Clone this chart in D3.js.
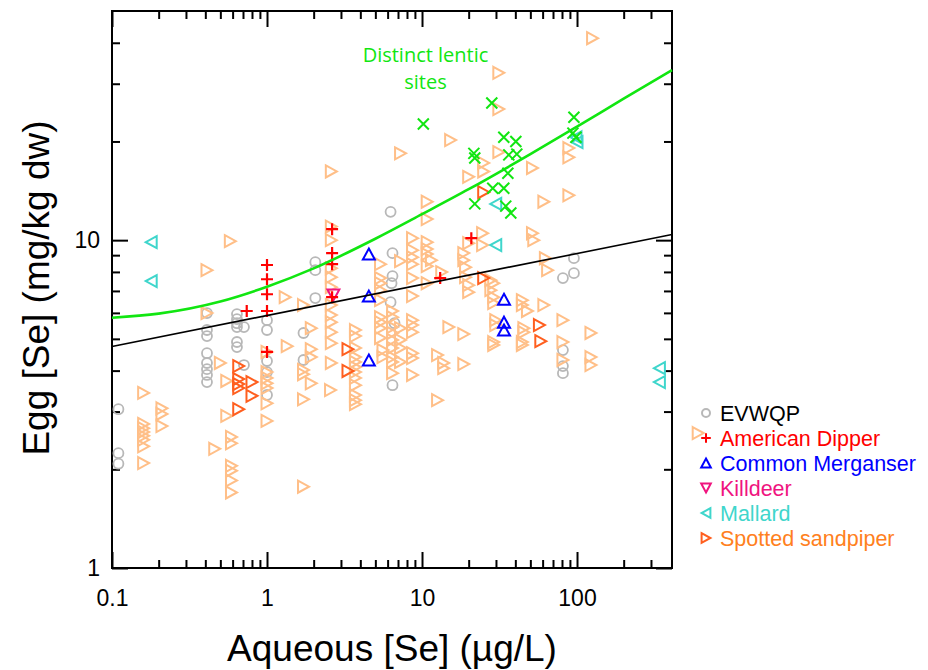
<!DOCTYPE html>
<html>
<head>
<meta charset="utf-8">
<script src="https://cdn.jsdelivr.net/npm/d3@7"></script>
<style>
  body { margin: 0; background: #fff; }
  svg { display: block; }
</style>
</head>
<body>
<svg id="chart" width="928" height="670"></svg>
<script>
// ---- Data: aqueous Se (µg/L) vs egg Se (mg/kg dw) ----

// EVWQP
const evwqpX = [0.11,0.11,0.11, 0.41,0.41,0.41,0.41,0.41,0.41,0.41,0.41,
  0.64,0.64,0.64,0.64,0.64,0.64,0.71,0.71, 1,1,1,1,1, 1.72,1.72, 2.05,2.05,2.05,
  6.27,6.45,6.45,6.36,6.27,6.65,6.45, 95.5,95.5,81.1,81.1,81.1,81.1];
const evwqpY = [3.05,2.24,2.08, 5.99,5.32,5.10,4.52,4.22,4.04,3.88,3.69,
  5.95,5.74,5.58,5.43,4.89,4.72,5.43,4.16, 5.70,5.32,4.28,3.96,3.37, 5.21,4.31, 8.57,8.10,6.66,
  12.2,9.13,7.77,7.39,6.47,5.58,3.61, 8.81,7.93,7.66,4.62,4.13,3.93];

// American Dipper
const dipperX = [0.74,1,1,1,1,1,2.63,2.63,2.63,2.63,13.1,20.8];
const dipperY = [6.08,8.4,7.6,6.84,6.08,4.56,10.8,9.13,8.45,6.70,7.66,10.14];

// Common Merganser
const merganserX = [4.54,4.54,4.54,33.8,33.8,33.8];
const merganserY = [9.07,6.75,4.31,6.60,5.62,5.32];

// Killdeer
const killdeerX = [2.68];
const killdeerY = [6.80];

// Mallard
const mallardX = [0.179,0.179,29.9,29.9,98.5,100,340,340];
const mallardY = [9.86,7.50,12.9,9.66,20.6,19.9,4.07,3.69];

// Spotted sandpiper
const sandpiperX = [0.657,0.657,0.657,0.657,0.80,0.80,0.657,3.33,3.33,25.0,25.0,57.2,58.4];
const sandpiperY = [4.13,3.77,3.64,3.54,3.69,3.35,3.05,4.65,3.99,14.0,7.66,5.51,4.92];

// Distinct lentic sites
const lenticX = [10.2,28.2,95.5,94.1,98.5,33.7,40.3,21.6,21.9,36.3,40.9,35.8,28.6,33.7,21.9,34.7,37.4];
const lenticY = [22.6,26.2,23.7,21.2,20.6,20.6,20.0,18.4,17.8,18.2,18.3,16.0,14.4,14.4,12.9,12.7,12.1];

// Other records (open right triangles, light orange)
const otherX = [
  0.16,0.16,0.16,0.16,0.16,0.16,0.16,0.16,
  0.21,0.21,0.21,
  0.41,0.41, 0.58, 0.50, 0.55,0.55, 0.46,
  0.59,0.59,0.59,0.59,0.59,0.59,
  1,1,1,1,1,1,1,
  1.31, 1.35,
  1.72,1.72,1.72,1.72,1.72,
  1.93,1.93,1.93,1.93,
  2.57,
  2.6,2.6,2.6,2.6,2.6,2.6,2.6,2.6,2.6,2.6,2.6,2.6,
  3.72,3.72,3.72,3.72,3.72,3.72,3.72,3.72,3.72,3.72,3.72,3.72,
  5.4,5.4,5.4,5.4,5.4,5.4,5.4,5.4,5.4,
  5.6,5.6,
  6.46,6.46,6.46,6.46,6.46,6.46,6.46,6.46,6.46,
  7.27,7.27,7.27,7.27,7.27,7.27,
  8.69,8.69,8.69,8.69,8.69,8.69,8.69,8.69,8.69,8.69,8.69,8.69,
  10.8,10.8,10.8,10.8,10.8,10.8,10.8,
  11.5, 12.6,12.6, 13.4, 13.8,13.8, 14.9, 15.3,
  18.6,18.6,18.6,18.6, 19.1,19.1,
  20.0,20.0,20.0,20.0,
  24.6,24.6, 25.0,25.0, 27.8,27.8,
  29.0,29.0,29.0,29.0,29.0, 29.9,29.9,
  31.3,31.3,31.3,
  44.4,44.4,44.4,44.4, 45.4,45.4, 47.9,
  51.6,51.6, 52.6, 61.1,61.1, 62.5, 64.6,
  81.1,81.1,81.1, 88.6,88.6,88.6,
  123,123,123, 126, 605
];
const otherY = [
  3.42,2.75,2.67,2.60,2.53,2.46,2.35,2.09,
  3.07,2.95,2.71,
  8.10,5.99, 9.93, 4.22, 3.72,2.91, 2.31,
  2.51,2.40,2.05,1.98,1.85,1.70,
  4.56,3.96,3.80,3.66,3.54,3.18,2.81,
  6.70, 4.75,
  6.34,4.02,3.90,3.27,1.77,
  5.39,4.65,4.40,3.66,
  3.49,
  16.2,11.0,10.0,8.21,7.71,7.19,6.34,5.91,5.62,5.24,4.85,4.22,
  5.32,5.10,4.69,4.40,4.25,4.10,3.96,3.80,3.61,3.37,3.25,3.16,
  8.45,7.66,7.39,7.04,6.56,5.82,5.62,5.39,5.03,
  4.62,4.40,
  6.08,5.82,5.43,5.21,4.96,4.69,4.40,4.25,3.93,
  18.4,8.63,5.39,4.96,4.69,4.25,
  10.14,9.32,8.87,8.45,7.66,6.75,5.70,5.51,5.24,4.52,4.37,3.88,
  13.1,11.6,9.86,9.39,9.07,8.33,7.39,
  8.69, 4.46,3.25, 7.99, 4.22,4.07, 5.43, 20.2,
  9.13,8.69,5.17,4.19, 8.27,7.71,
  15.6,9.79,7.29,6.94,
  10.5,9.66, 17.2,16.2, 7.55,7.04,
  7.39,6.70,6.43,4.89,4.79, 5.70,5.51,
  32.4,25.1,18.55,
  6.56,6.34,4.89,4.79, 5.39,5.24, 6.08,
  16.6,10.5, 10.0, 13.1,6.34, 8.81, 8.10,
  5.70,4.89,4.31, 19.1,17.9,13.7,
  5.21,4.40,4.16, 41.3, 2.58
];

// Fitted relationships
const lenticCurveX = [0.1,0.2,0.5,1,2,5,10,20,50,100,200,410];
const lenticCurveY = [5.80,5.97,6.50,7.21,8.2,10.1,12.0,14.3,18.3,22.2,27.0,33.0];
const overallFitX = [0.1,410];
const overallFitY = [4.74,10.4];

// Axis ticks
const xMajorTicks = [0.1,1,10,100];
const yMajorTicks = [1,10];

// ---- Layout ----
const svg = d3.select("#chart");
const margin = {left: 112, top: 11};
const width = 560, height = 557;
const g = svg.append("g").attr("transform", `translate(${margin.left},${margin.top})`);

const x = d3.scaleLog().domain([0.1, 410]).range([0, width]);
const y = d3.scaleLog().domain([1, 50]).range([height, 0]);

const FONT = "'Liberation Sans', Arial, Helvetica, sans-serif";

// Minor ticks: every log tick that is not a decade and not on the frame
const isMajor = v => Math.abs(Math.log10(v) - Math.round(Math.log10(v))) < 1e-9;
const xMinor = x.ticks().filter(v => !isMajor(v) && x(v) < width - 4);
const yMinor = y.ticks().filter(v => !isMajor(v) && y(v) > 4);

function styleAxis(sel) {
  sel.select(".domain").remove();
  sel.selectAll(".tick line").attr("stroke", "#000").attr("stroke-width", 2);
  sel.selectAll(".tick text").attr("fill", "#000").style("font-family", FONT).style("font-size", "23px");
}

// bottom axis: inward ticks with labels
g.append("g").attr("transform", `translate(0,${height})`)
  .call(d3.axisBottom(x).tickValues(xMajorTicks).tickSize(-16).tickPadding(22).tickFormat(d => String(d)))
  .call(styleAxis);
g.append("g").attr("transform", `translate(0,${height})`)
  .call(d3.axisBottom(x).tickValues(xMinor).tickSize(-8).tickFormat(""))
  .call(styleAxis);
// top axis
g.append("g")
  .call(d3.axisTop(x).tickValues(xMajorTicks).tickSize(-16).tickFormat(""))
  .call(styleAxis);
g.append("g")
  .call(d3.axisTop(x).tickValues(xMinor).tickSize(-8).tickFormat(""))
  .call(styleAxis);
// left axis
g.append("g")
  .call(d3.axisLeft(y).tickValues(yMajorTicks).tickSize(-16).tickPadding(12).tickFormat(d => String(d)))
  .call(styleAxis);
g.append("g")
  .call(d3.axisLeft(y).tickValues(yMinor).tickSize(-8).tickFormat(""))
  .call(styleAxis);
// right axis
g.append("g").attr("transform", `translate(${width},0)`)
  .call(d3.axisRight(y).tickValues(yMajorTicks).tickSize(-16).tickFormat(""))
  .call(styleAxis);
g.append("g").attr("transform", `translate(${width},0)`)
  .call(d3.axisRight(y).tickValues(yMinor).tickSize(-8).tickFormat(""))
  .call(styleAxis);

// frame
g.append("rect").attr("width", width).attr("height", height)
  .attr("fill", "none").attr("stroke", "#000").attr("stroke-width", 2);

// axis titles
svg.append("text")
  .attr("x", 392).attr("y", 661)
  .attr("text-anchor", "middle")
  .style("font-family", FONT).style("font-size", "37px")
  .text("Aqueous [Se] (µg/L)");
svg.append("text")
  .attr("transform", "translate(49,288) rotate(-90)")
  .attr("text-anchor", "middle")
  .style("font-family", FONT).style("font-size", "37px")
  .text("Egg [Se] (mg/kg dw)");

// ---- Marker shapes ----
function shapePath(shape, s) {
  const a = 5.5 * s, b = 6 * s;
  switch (shape) {
    case "circle": {
      const p = d3.path(); p.arc(0, 0, 5 * s, 0, 2 * Math.PI); return p.toString();
    }
    case "right": return `M${-a},${-b}L${a},0L${-a},${b}Z`;
    case "left":  return `M${a},${-b}L${-a},0L${a},${b}Z`;
    case "up":    return `M0,${-a}L${b},${a}L${-b},${a}Z`;
    case "down":  return `M0,${a}L${b},${-a}L${-b},${-a}Z`;
    case "plus":  return `M${-b},0H${b}M0,${-b}V${b}`;
    case "cross": return `M${-a},${-a}L${a},${a}M${-a},${a}L${a},${-a}`;
  }
}

const seriesList = [
  {xs: evwqpX, ys: evwqpY, shape: "circle", color: "#b8b8b8", sw: 1.8},
  {xs: otherX, ys: otherY, shape: "right", color: "#ffbf88", sw: 2},
  {xs: sandpiperX, ys: sandpiperY, shape: "right", color: "#ff5f1f", sw: 2},
  {xs: mallardX, ys: mallardY, shape: "left", color: "#3fd6cc", sw: 2},
  {xs: killdeerX, ys: killdeerY, shape: "down", color: "#f0147f", sw: 2},
  {xs: merganserX, ys: merganserY, shape: "up", color: "#0000ff", sw: 2},
  {xs: dipperX, ys: dipperY, shape: "plus", color: "#ff0000", sw: 2.2},
  {xs: lenticX, ys: lenticY, shape: "cross", color: "#11e611", sw: 2}
];

seriesList.forEach(s => {
  const pts = s.xs.map((v, i) => [v, s.ys[i]]);
  g.append("g").selectAll("path").data(pts).join("path")
    .attr("transform", d => `translate(${x(d[0])},${y(d[1])})`)
    .attr("d", shapePath(s.shape, 1))
    .attr("fill", "none")
    .attr("stroke", s.color)
    .attr("stroke-width", s.sw)
    .attr("stroke-linejoin", "miter");
});

// ---- Fit lines ----
const line = d3.line().x(d => x(d[0])).y(d => y(d[1]));
g.append("path")
  .datum(overallFitX.map((v, i) => [v, overallFitY[i]]))
  .attr("d", line)
  .attr("fill", "none").attr("stroke", "#000").attr("stroke-width", 1.6);
g.append("path")
  .datum(lenticCurveX.map((v, i) => [v, lenticCurveY[i]]))
  .attr("d", line.curve(d3.curveMonotoneX))
  .attr("fill", "none").attr("stroke", "#11e611").attr("stroke-width", 2.6);

// annotation
const note = g.append("text")
  .attr("text-anchor", "middle")
  .attr("fill", "#11e611")
  .style("font-family", "'Open Sans', 'Noto Sans', sans-serif")
  .style("font-size", "20px");
note.append("tspan").attr("x", 313.5).attr("y", 51).text("Distinct lentic");
note.append("tspan").attr("x", 313.5).attr("y", 78).text("sites");

// ---- Legend ----
const legendItems = [
  {label: "EVWQP", shape: "circle", color: "#b8b8b8", text: "#000"},
  {label: "American Dipper", shape: "plus", color: "#ff0000", text: "#ff0000"},
  {label: "Common Merganser", shape: "up", color: "#0000ff", text: "#0000ff"},
  {label: "Killdeer", shape: "down", color: "#f0147f", text: "#f0147f"},
  {label: "Mallard", shape: "left", color: "#3fd6cc", text: "#3fd6cc"},
  {label: "Spotted sandpiper", shape: "right", color: "#ff5f1f", text: "#ff8020"}
];
const legendTop = 413, legendStep = 25;
const legend = svg.append("g");
legendItems.forEach((item, i) => {
  const row = legend.append("g").attr("transform", `translate(706,${legendTop + i * legendStep})`);
  row.append("path")
    .attr("d", shapePath(item.shape, 0.8))
    .attr("fill", "none").attr("stroke", item.color).attr("stroke-width", 2);
  row.append("text")
    .attr("x", 14).attr("y", 8)
    .attr("fill", item.text)
    .style("font-family", FONT).style("font-size", "21.5px")
    .text(item.label);
});
</script>
</body>
</html>
